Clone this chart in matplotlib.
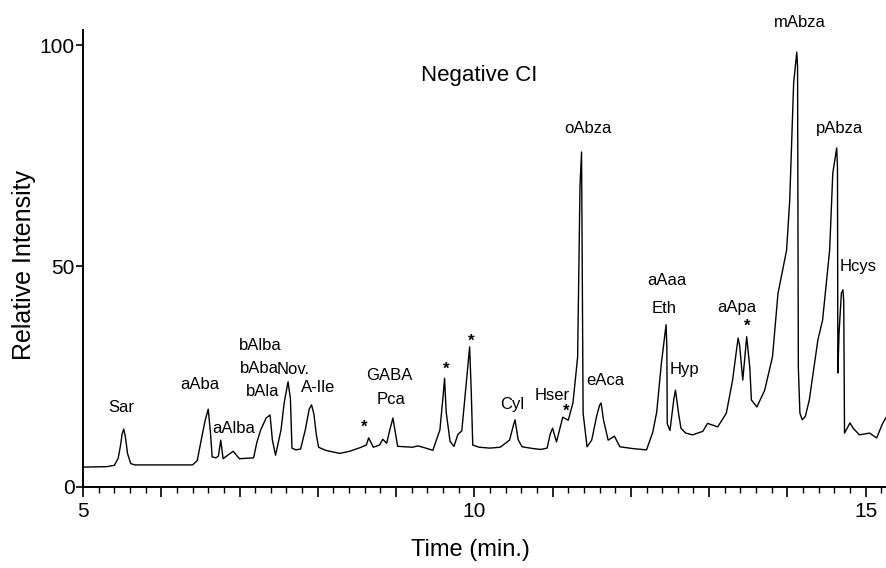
import matplotlib
matplotlib.use("Agg")
import matplotlib.pyplot as plt
from matplotlib.ticker import FixedLocator, FuncFormatter, MultipleLocator

plt.rcParams['font.family'] = ['Liberation Sans', 'DejaVu Sans']

# chromatogram trace: time (min) and relative intensity
time = [5.00, 5.30, 5.40, 5.45, 5.48, 5.50, 5.52, 5.54, 5.57, 5.61, 5.66, 6.00, 6.40,
        6.46, 6.51, 6.56, 6.60, 6.63, 6.65, 6.70, 6.73, 6.76, 6.79,
        6.85, 6.92, 6.97, 7.00, 7.18, 7.22, 7.27, 7.34, 7.39, 7.42,
        7.46, 7.53, 7.57, 7.62, 7.65, 7.67, 7.72, 7.78, 7.84, 7.89, 7.92,
        7.95, 7.98, 8.01, 8.10, 8.28, 8.41, 8.54, 8.62, 8.65, 8.71, 8.79,
        8.83, 8.88, 8.92, 8.96, 9.00, 9.02, 9.21, 9.28, 9.36, 9.47,
        9.56, 9.60, 9.62, 9.64, 9.69, 9.74, 9.79, 9.84, 9.88, 9.94,
        9.96, 9.98, 10.06, 10.20, 10.33, 10.45, 10.50, 10.52, 10.56, 10.61, 10.75,
        10.85, 10.93, 10.97, 11.00, 11.05, 11.13, 11.20, 11.26, 11.32, 11.35, 11.37,
        11.39, 11.44, 11.50, 11.56, 11.60, 11.62, 11.65, 11.71, 11.79, 11.86, 12.02,
        12.20, 12.28, 12.33, 12.39, 12.45, 12.46, 12.465, 12.50, 12.55, 12.57, 12.61,
        12.64, 12.70, 12.79, 12.92, 12.98, 13.11, 13.22, 13.30, 13.37, 13.39,
        13.43, 13.48, 13.52, 13.54, 13.61, 13.71, 13.81, 13.88, 13.99, 14.03,
        14.08, 14.12, 14.13, 14.14, 14.16, 14.19, 14.23, 14.28, 14.39, 14.45,
        14.54, 14.58, 14.63, 14.64, 14.645, 14.66, 14.69, 14.71, 14.72, 14.73,
        14.80, 14.84, 14.92, 15.05, 15.14, 15.22, 15.26]
intensity = [4.5, 4.6, 4.9, 6.5, 9.5, 12.0, 13.1, 11.5, 7.5, 5.3, 5.0, 5.0, 5.0,
             6.0, 10.6, 15.0, 17.6, 12.0, 6.8, 6.6, 7.0, 10.6, 6.4,
             7.2, 8.1, 7.0, 6.4, 6.6, 10.0, 12.9, 15.6, 16.3, 10.6,
             7.2, 12.9, 19.0, 23.8, 20.0, 8.8, 8.4, 8.6, 12.9, 17.6, 18.6,
             16.5, 12.0, 9.0, 8.3, 7.6, 8.1, 8.9, 9.5, 11.1, 9.0, 9.5,
             10.8, 9.9, 12.9, 15.6, 11.4, 9.2, 9.0, 9.3, 8.9, 8.3,
             12.9, 20.4, 24.6, 17.0, 10.3, 9.2, 11.9, 12.7, 20.4, 31.7,
             22.0, 9.5, 9.0, 8.8, 9.0, 10.6, 14.0, 15.2, 10.7, 9.1, 8.7,
             8.5, 8.8, 12.0, 13.3, 10.2, 15.8, 15.1, 19.0, 29.4, 68.0, 75.8,
             16.7, 9.1, 10.6, 15.8, 18.5, 19.0, 15.2, 10.6, 11.5, 9.1, 8.7,
             8.4, 12.4, 16.9, 28.0, 36.7, 31.6, 14.3, 12.8, 20.0, 21.9, 16.6,
             13.3, 12.2, 11.8, 12.6, 14.4, 13.6, 16.7, 24.2, 33.7, 32.0,
             24.2, 34.0, 27.0, 19.7, 18.1, 21.9, 29.5, 43.8, 53.6, 64.9,
             91.4, 98.4, 95.0, 27.0, 16.7, 15.2, 16.0, 19.7, 33.3, 37.8,
             53.6, 71.0, 76.7, 72.4, 25.8, 34.8, 43.9, 44.6, 42.0, 12.2,
             14.5, 13.3, 11.8, 12.2, 11.1, 14.5, 15.7]

# peak labels: text, time, intensity
peak_names = ['Sar', 'aAba', 'aAlba', 'bAlba', 'bAba', 'bAla', 'Nov.', 'A-Ile',
              'GABA', 'Pca', 'Cyl', 'Hser', 'oAbza', 'eAca', 'aAaa', 'Eth',
              'Hyp', 'aApa', 'mAbza', 'pAbza', 'Hcys']
peak_t = [5.49, 6.49, 6.93, 7.27, 7.25, 7.29, 7.68, 8.01,
          8.92, 8.93, 10.48, 11.00, 11.45, 11.68, 12.46, 12.43,
          12.69, 13.35, 14.16, 14.67, 14.90]
peak_i = [18.1, 23.1, 13.3, 32.1, 26.9, 21.7, 26.5, 22.4,
          25.3, 19.9, 18.6, 20.8, 81.2, 24.2, 46.8, 40.5,
          26.5, 40.7, 105.0, 81.2, 49.8]

# asterisks marking unknown peaks
star_t = [8.59, 9.64, 9.96, 11.17, 13.49]
star_i = [13.6, 26.7, 32.9, 17.2, 36.3]

fig = plt.figure(figsize=(8.86, 5.68), dpi=100)
ax = fig.add_axes([83/886, 81/568, 1 - 83/886, 457/568])

ax.plot(time, intensity, color='black', linewidth=1.0)

for name, t, i in zip(peak_names, peak_t, peak_i):
    ax.text(t, i, name, fontsize=12, ha='center', va='center')
for t, i in zip(star_t, star_i):
    ax.text(t, i, '*', fontsize=12, fontweight='bold', ha='center', va='center')

ax.text(10.06, 93, 'Negative CI', fontsize=16, ha='center', va='center')

ax.set_xlim(5, 15.26)
ax.set_ylim(0, 103.4)

ax.spines['top'].set_visible(False)
ax.spines['right'].set_visible(False)
ax.spines['left'].set_linewidth(1.4)
ax.spines['bottom'].set_linewidth(1.4)

ax.xaxis.set_major_locator(MultipleLocator(1))
ax.xaxis.set_minor_locator(MultipleLocator(0.2))
ax.xaxis.set_major_formatter(FuncFormatter(lambda v, p: '%d' % v if round(v) in (5, 10, 15) else ''))
ax.yaxis.set_major_locator(FixedLocator([0, 50, 100]))
ax.tick_params(axis='x', which='major', direction='out', length=7, width=1.2, labelsize=15, pad=4)
ax.tick_params(axis='x', which='minor', direction='out', length=4, width=1.0)
ax.tick_params(axis='y', which='major', direction='out', length=5, width=1.2, labelsize=15, pad=1)

fig.text(470/886, 1 - 550/568, 'Time (min.)', fontsize=17, ha='center', va='center',
         family=['Liberation Sans Narrow', 'Liberation Sans'])
fig.text(24/886, 1 - 265/568, 'Relative Intensity', fontsize=18, rotation=90,
         ha='center', va='center')

plt.savefig('out.png', dpi=100)
plt.close()
